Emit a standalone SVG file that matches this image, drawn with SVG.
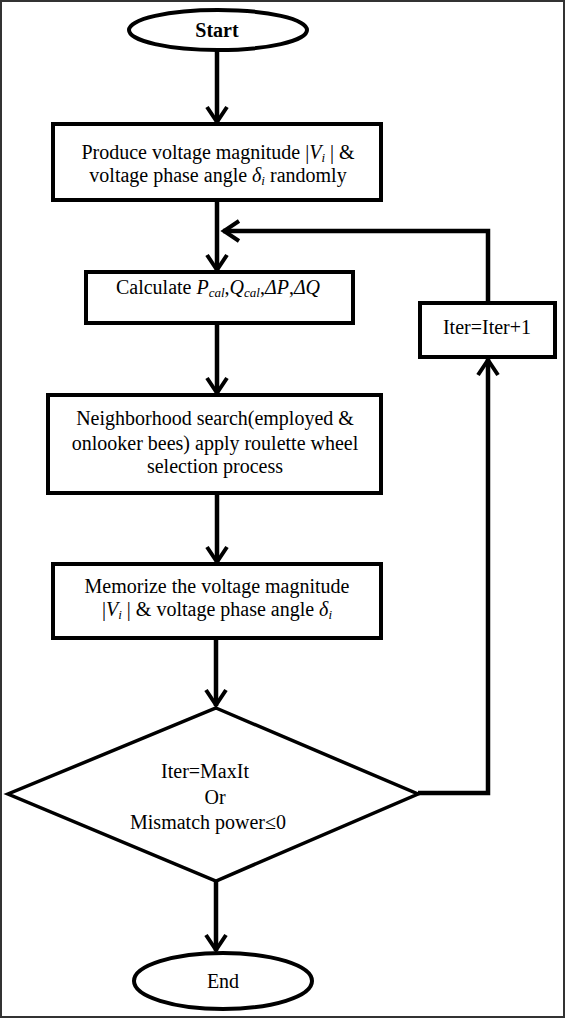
<svg xmlns="http://www.w3.org/2000/svg" width="566" height="1020" viewBox="0 0 566 1020">
<style>
text{font-family:"Liberation Serif","Times New Roman","DejaVu Serif",serif;font-size:20px;fill:#000;text-anchor:middle}
.b{font-weight:bold}
.i{font-style:italic}
.s{font-size:13px;font-style:italic}
.n{fill:#fff;stroke:#000;stroke-width:4}
.c{fill:none;stroke:#000;stroke-width:4.5}
</style>
<defs>
<marker id="arr" markerUnits="userSpaceOnUse" viewBox="-20 -13 22 26" refX="0" refY="0" markerWidth="22" markerHeight="26" orient="auto" overflow="visible">
<path d="M-16,-10 L-1,0 L-16,10" fill="none" stroke="#000" stroke-width="4"/>
</marker>
</defs>
<rect width="566" height="1020" fill="#fff"/>
<rect x="1" y="1" width="563" height="1016" fill="none" stroke="#333" stroke-width="2"/>
<g id="connectors">
<line class="c" x1="217" y1="50" x2="217" y2="123" marker-end="url(#arr)"/>
<line class="c" x1="217" y1="200" x2="217" y2="271" marker-end="url(#arr)"/>
<line class="c" x1="217" y1="323" x2="217" y2="394" marker-end="url(#arr)"/>
<line class="c" x1="217" y1="493" x2="217" y2="563" marker-end="url(#arr)"/>
<line class="c" x1="216" y1="638" x2="216" y2="706" marker-end="url(#arr)"/>
<line class="c" x1="216" y1="881" x2="216" y2="951" marker-end="url(#arr)"/>
<polyline class="c" points="418,793 488,793 488,359" marker-end="url(#arr)"/>
<polyline class="c" points="488,303 488,231 223,231" marker-end="url(#arr)"/>
</g>
<g id="start">
<ellipse class="n" cx="218" cy="30" rx="89" ry="20"/>
<text class="b" x="217" y="37">Start</text>
</g>
<g id="produce">
<rect class="n" x="53" y="124" width="328" height="76"/>
<text x="218" y="159">Produce voltage magnitude |<tspan class="i">V</tspan><tspan class="s" dy="3">i</tspan><tspan dy="-3"> | &amp;</tspan></text>
<text x="218" y="182">voltage phase angle <tspan class="i">δ</tspan><tspan class="s" dy="3">i</tspan><tspan dy="-3"> randomly</tspan></text>
</g>
<g id="calculate">
<rect class="n" x="86" y="272" width="267" height="51"/>
<text x="218" y="294">Calculate <tspan class="i">P</tspan><tspan class="s" dy="3">cal</tspan><tspan dy="-3">,</tspan><tspan class="i">Q</tspan><tspan class="s" dy="3">cal</tspan><tspan dy="-3">,</tspan><tspan class="i">ΔP</tspan>,<tspan class="i">ΔQ</tspan></text>
</g>
<g id="neighborhood">
<rect class="n" x="48" y="395" width="333" height="98"/>
<text x="215" y="425">Neighborhood search(employed &amp;</text>
<text x="215" y="450">onlooker bees) apply roulette wheel</text>
<text x="215" y="473">selection process</text>
</g>
<g id="memorize">
<rect class="n" x="53" y="564" width="328" height="74"/>
<text x="217" y="593">Memorize the voltage magnitude</text>
<text x="217" y="616">|<tspan class="i">V</tspan><tspan class="s" dy="3">i</tspan><tspan dy="-3"> | &amp; voltage phase angle </tspan><tspan class="i">δ</tspan><tspan class="s" dy="3">i</tspan></text>
</g>
<g id="iter">
<rect class="n" x="420" y="303" width="135" height="54"/>
<text x="487" y="334">Iter=Iter+1</text>
</g>
<g id="decision">
<polygon points="216,708 418,794 216,881 8,794" fill="#fff" stroke="#000" stroke-width="3.5"/>
<text x="205" y="778">Iter=MaxIt</text>
<text x="215" y="804">Or</text>
<text x="208" y="829">Mismatch power≤0</text>
</g>
<g id="end">
<ellipse class="n" cx="223" cy="981" rx="89" ry="28"/>
<text x="223" y="988">End</text>
</g>
</svg>
